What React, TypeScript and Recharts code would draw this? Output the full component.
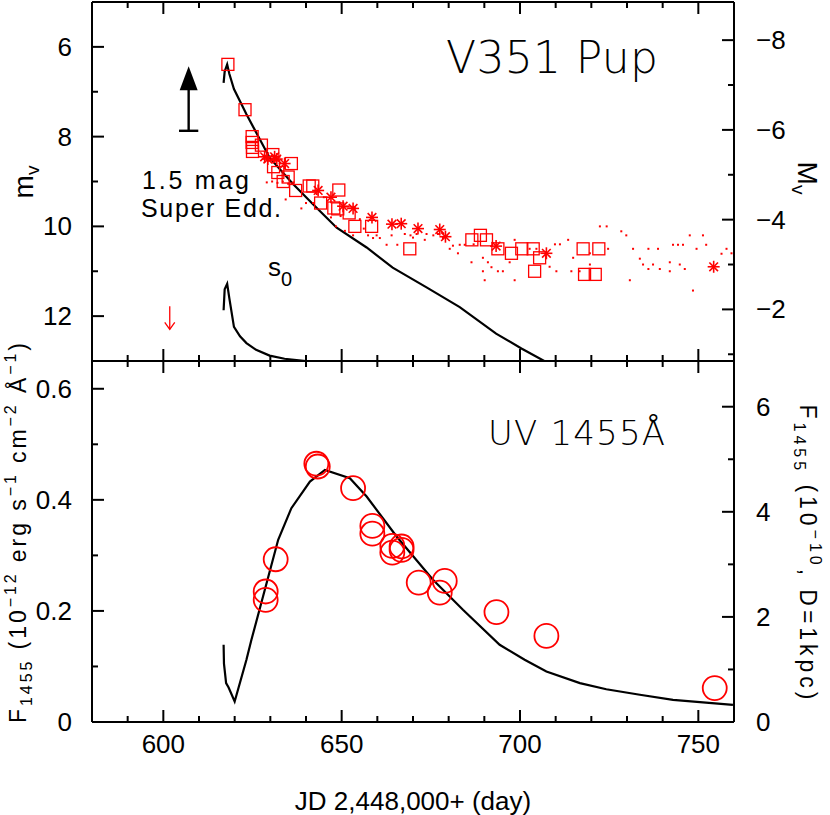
import React from "react";
import { ComposedChart, Line, Scatter, XAxis, YAxis, ReferenceLine } from "recharts";

const FONT = "'Liberation Sans', Arial, sans-serif";
const THIN = "'DejaVu Sans', 'Liberation Sans', sans-serif";
const RED = "#ff0000";

// x axis (JD - 2,448,000)
const xDomain = [580, 760];
const xTicks = [590, 600, 610, 620, 630, 640, 650, 660, 670, 680, 690, 700, 710, 720, 730, 740, 750];
const xLabels = [600, 650, 700, 750];

// top panel: apparent / absolute V magnitude
const mvDomain = [5, 13];
const mvTicks = [6, 7, 8, 9, 10, 11, 12];
const MvDomain = [-8.85, -0.85];
const MvTicks = [-8, -7, -6, -5, -4, -3, -2, -1];

// bottom panel: UV 1455 flux
const fDomain = [0, 0.65];
const fTicks = [0, 0.1, 0.2, 0.3, 0.4, 0.5, 0.6];
const fRightDomain = [0, 6.87];
const fRightTicks = [0, 1, 2, 3, 4, 5, 6];

// model V light curve
const modelV: [number, number][] = [
  [616.9, 6.8], [617.2, 6.55], [617.9, 6.39], [618.5, 6.6], [619.8, 6.94], [623.3, 7.5],
  [629.8, 8.47], [636.3, 9.05], [641.9, 9.5], [648.6, 10.03], [657.0, 10.47], [664.3, 10.92],
  [673.8, 11.36], [683.1, 11.8], [693.3, 12.39], [700.4, 12.72], [706.8, 13.0],
];

// s0 curve
const modelS0: [number, number][] = [
  [616.9, 11.87], [617.2, 11.4], [617.9, 11.28], [618.5, 11.6], [619.8, 12.24], [621.5, 12.45],
  [623.3, 12.6], [626, 12.75], [629.8, 12.88], [634, 12.95], [640, 13.0],
];

// observed V (squares)
const squaresV: [number, number][] = [
  [618.1, 6.39], [622.9, 7.4], [624.9, 8.0], [624.9, 8.13], [625.0, 8.24], [625.0, 8.33],
  [627.5, 8.19], [630.7, 8.4], [630.9, 8.67], [635.9, 8.6], [632.1, 8.8], [635.0, 8.9],
  [633.6, 9.0], [637.1, 9.2], [640.9, 9.1], [641.9, 9.1], [649.2, 9.19], [644.1, 9.48],
  [647.8, 9.59], [648.9, 9.61], [652.1, 9.7], [653.7, 10.0], [658.4, 10.0], [669.1, 10.5],
  [686.5, 10.3], [688.9, 10.2], [690.6, 10.3], [693.8, 10.5], [697.6, 10.6], [700.5, 10.5],
  [703.7, 10.5], [705.5, 10.7], [704.1, 11.0], [717.7, 10.5], [722.1, 10.5], [718.1, 11.07],
  [721.1, 11.07],
];

// observed V (asterisks)
const starsV: [number, number][] = [
  [628.4, 8.45], [629.3, 8.5], [631.2, 8.45], [631.8, 8.5], [634.0, 8.6], [643.4, 9.2],
  [647.0, 9.35], [650.4, 9.55], [653.2, 9.6], [658.5, 9.8], [664.1, 9.95], [666.7, 9.94],
  [671.4, 10.05], [677.5, 10.07], [679.1, 10.23], [693.3, 10.44], [707.4, 10.6], [754.3, 10.9],
];

// visual estimates (dots)
const dotsV: [number, number][] = [
  [629, 9.02], [630.5, 9.0], [632, 9.03], [633.5, 9.0], [635, 9.05], [636.5, 9.02],
  [634.3, 9.4], [638.7, 9.6], [640, 9.48], [642, 9.48], [643, 9.28], [645, 9.35],
  [647, 9.8], [648.4, 10.0], [649.7, 9.77], [650.9, 10.1], [653.2, 10.2], [655.1, 9.84],
  [656.2, 10.05], [657.4, 10.2], [658.8, 10.26], [659.8, 10.2], [660.7, 10.26], [662.6, 10.41],
  [664, 10.2], [665.6, 10.41], [667.7, 10.17], [669.3, 10.2], [670, 10.25], [671, 10.17],
  [673.3, 10.3], [673.8, 10.17], [675.7, 10.2], [677, 10.17], [678.4, 10.26], [679.4, 10.21],
  [680.3, 10.5], [681.2, 10.43], [682.6, 10.6], [683.1, 10.41], [684.5, 10.41], [686.4, 10.8],
  [687, 10.4], [689.6, 10.7], [691, 10.8], [692, 10.91], [689.6, 11.0], [693.8, 11.0],
  [695.2, 11.0], [690.1, 11.2], [697.1, 10.8], [698.5, 10.3], [698.5, 11.2], [702.7, 10.5],
  [704.6, 10.5], [708.3, 10.9], [710.2, 11.0], [709.8, 10.4], [711.2, 10.4], [713.5, 10.3],
  [714.9, 10.7], [714.4, 11.0], [716.7, 11.0], [719.6, 10.6], [719.6, 10.85], [722.4, 10.0],
  [724.3, 10.0], [724.7, 10.5], [728.4, 10.11], [729.8, 10.2], [730.8, 11.2], [731.7, 10.5],
  [733.6, 10.72], [734.5, 10.85], [736, 10.5], [736, 10.95], [737.3, 10.85], [738.7, 10.5],
  [739.2, 10.95], [742, 10.8], [742, 11.0], [742.9, 10.41], [744.3, 10.41], [745.7, 10.41],
  [744.8, 10.85], [746.2, 10.95], [747.6, 10.2], [748.5, 11.43], [749.5, 10.5], [751.3, 10.2],
  [752.2, 10.41], [756.5, 10.61], [757.9, 10.5], [759.3, 10.6],
];

// pre-outburst upper limit
const limitV: [number, number][] = [[601.8, 12.05]];

// 1.5 mag super-Eddington arrow
const arrowTip: [number, number][] = [[607.1, 6.43]];
const arrowBase = { x: 607.1, top: 6.9, bottom: 7.87, half: 2.7 };

// UV 1455 model and observations
const modelUV: [number, number][] = [
  [616.9, 0.139], [617.0, 0.105], [617.6, 0.07], [618.3, 0.062], [620.0, 0.037], [623.3, 0.112],
  [624.7, 0.148], [632.2, 0.328], [635.9, 0.385], [641.1, 0.433], [645.3, 0.454], [652.3, 0.439],
  [657.0, 0.406], [665.4, 0.334], [675.6, 0.256], [684.0, 0.202], [694.3, 0.139], [701.3, 0.112],
  [707.4, 0.091], [716.8, 0.07], [724.2, 0.059], [733.6, 0.049], [742.9, 0.04], [759.7, 0.031],
];
const circlesUV: [number, number][] = [
  [642.9, 0.465], [643.3, 0.46], [653.2, 0.421], [658.6, 0.353], [658.6, 0.339], [664.2, 0.317],
  [664.2, 0.305], [666.8, 0.316], [666.8, 0.31], [631.5, 0.293], [628.7, 0.235], [628.7, 0.22],
  [671.6, 0.251], [678.9, 0.254], [677.5, 0.233], [693.4, 0.198], [707.4, 0.155], [754.6, 0.061],
];

const pts = (a: [number, number][]) => a.map(([x, y]) => ({ x, y }));

type Side = "left" | "right" | "top" | "bottom";

const tickRenderer =
  (side: Side, isMajor: (v: number) => boolean, label?: (v: number) => string | null) =>
  (props: any) => {
    const { x, y, payload } = props;
    const v = payload.value as number;
    const len = isMajor(v) ? 12 : 6;
    const text = label ? label(v) : null;
    const lineProps = { stroke: "#000", strokeWidth: 2 };
    const textProps = { fontSize: 26, fontFamily: FONT, fill: "#000" };
    if (side === "left")
      return (
        <g>
          <line x1={x} y1={y} x2={x + len} y2={y} {...lineProps} />
          {text && <text x={x - 20} y={y + 9} textAnchor="end" {...textProps}>{text}</text>}
        </g>
      );
    if (side === "right")
      return (
        <g>
          <line x1={x} y1={y} x2={x - len} y2={y} {...lineProps} />
          {text && <text x={x + 22} y={y + 9} textAnchor="start" {...textProps}>{text}</text>}
        </g>
      );
    if (side === "top")
      return (
        <g>
          <line x1={x} y1={y} x2={x} y2={y + len} {...lineProps} />
        </g>
      );
    return (
      <g>
        <line x1={x} y1={y} x2={x} y2={y - len} {...lineProps} />
        {text && <text x={x} y={y + 31} textAnchor="middle" {...textProps}>{text}</text>}
      </g>
    );
  };

const majorX = (v: number) => v % 50 === 0;
const axisLine = { stroke: "#000", strokeWidth: 2 };

const Square = (p: any) => (
  <rect x={p.cx - 6} y={p.cy - 6} width={12} height={12} fill="none" stroke={RED} strokeWidth={1.3} />
);
const Star = (p: any) => {
  const r = 6;
  const d = r * 0.72;
  return (
    <g stroke={RED} strokeWidth={1.6}>
      <line x1={p.cx - r} y1={p.cy} x2={p.cx + r} y2={p.cy} />
      <line x1={p.cx} y1={p.cy - r} x2={p.cx} y2={p.cy + r} />
      <line x1={p.cx - d} y1={p.cy - d} x2={p.cx + d} y2={p.cy + d} />
      <line x1={p.cx - d} y1={p.cy + d} x2={p.cx + d} y2={p.cy - d} />
    </g>
  );
};
const Dot = (p: any) => <rect x={p.cx - 1} y={p.cy - 1} width={2} height={2} fill={RED} />;
const Ring = (p: any) => <circle cx={p.cx} cy={p.cy} r={12} fill="none" stroke={RED} strokeWidth={1.8} />;
const DownArrow = (p: any) => (
  <g stroke={RED} strokeWidth={1.3} fill="none">
    <line x1={p.cx} y1={p.cy - 12} x2={p.cx} y2={p.cy + 11} />
    <path d={`M${p.cx - 5} ${p.cy + 4} L${p.cx} ${p.cy + 11} L${p.cx + 5} ${p.cy + 4}`} />
  </g>
);
const ArrowHead = (p: any) => (
  <path d={`M${p.cx} ${p.cy} L${p.cx + 9} ${p.cy + 24} L${p.cx - 9} ${p.cy + 24} Z`} fill="#000" />
);

const TopPanel = () => (
  <ComposedChart width={830} height={362} margin={{ top: 1, right: 0, bottom: 0, left: 0 }}>
    <XAxis xAxisId="b" type="number" dataKey="x" domain={xDomain} ticks={xTicks} interval={0}
      orientation="bottom" height={1} tickSize={0} tickMargin={0} tickLine={false} axisLine={axisLine}
      tick={tickRenderer("bottom", majorX)} allowDataOverflow />
    <XAxis xAxisId="t" type="number" dataKey="x" domain={xDomain} ticks={xTicks} interval={0}
      orientation="top" height={1} tickSize={0} tickMargin={0} tickLine={false} axisLine={axisLine}
      tick={tickRenderer("top", majorX)} allowDataOverflow />
    <YAxis yAxisId="l" type="number" dataKey="y" domain={mvDomain} reversed ticks={mvTicks} interval={0}
      width={92} tickSize={0} tickMargin={0} tickLine={false} axisLine={axisLine}
      tick={tickRenderer("left", (v) => v % 2 === 0, (v) => (v % 2 === 0 ? String(v) : null))}
      allowDataOverflow />
    <YAxis yAxisId="r" orientation="right" type="number" dataKey="y" domain={MvDomain} reversed
      ticks={MvTicks} interval={0} width={96} tickSize={0} tickMargin={0} tickLine={false} axisLine={axisLine}
      tick={tickRenderer("right", (v) => v % 2 === 0, (v) => (v % 2 === 0 ? "\u2212" + Math.abs(v) : null))}
      allowDataOverflow />
    <Line xAxisId="b" yAxisId="l" data={pts(modelV)} dataKey="y" type="linear" stroke="#000"
      strokeWidth={2.2} dot={false} isAnimationActive={false} />
    <Line xAxisId="b" yAxisId="l" data={pts(modelS0)} dataKey="y" type="linear" stroke="#000"
      strokeWidth={2.2} dot={false} isAnimationActive={false} />
    <Scatter xAxisId="b" yAxisId="l" data={pts(dotsV)} shape={Dot} isAnimationActive={false} />
    <Scatter xAxisId="b" yAxisId="l" data={pts(squaresV)} shape={Square} isAnimationActive={false} />
    <Scatter xAxisId="b" yAxisId="l" data={pts(starsV)} shape={Star} isAnimationActive={false} />
    <Scatter xAxisId="b" yAxisId="l" data={pts(limitV)} shape={DownArrow} isAnimationActive={false} />
    <ReferenceLine xAxisId="b" yAxisId="l" stroke="#000" strokeWidth={2.4}
      segment={[{ x: arrowBase.x, y: arrowBase.top }, { x: arrowBase.x, y: arrowBase.bottom }]} />
    <ReferenceLine xAxisId="b" yAxisId="l" stroke="#000" strokeWidth={2.4}
      segment={[{ x: arrowBase.x - arrowBase.half, y: arrowBase.bottom }, { x: arrowBase.x + arrowBase.half, y: arrowBase.bottom }]} />
    <Scatter xAxisId="b" yAxisId="l" data={pts(arrowTip)} shape={ArrowHead} isAnimationActive={false} />
  </ComposedChart>
);

const BottomPanel = () => (
  <ComposedChart width={830} height={455} margin={{ top: 0, right: 0, bottom: 0, left: 0 }}>
    <XAxis xAxisId="t" type="number" dataKey="x" domain={xDomain} ticks={xTicks} interval={0}
      orientation="top" height={1} tickSize={0} tickMargin={0} tickLine={false} axisLine={axisLine}
      tick={tickRenderer("top", majorX)} allowDataOverflow />
    <XAxis xAxisId="b" type="number" dataKey="x" domain={xDomain} ticks={xTicks} interval={0}
      orientation="bottom" height={93} tickSize={0} tickMargin={0} tickLine={false} axisLine={axisLine}
      tick={tickRenderer("bottom", majorX, (v) => (xLabels.includes(v) ? String(v) : null))} allowDataOverflow />
    <YAxis yAxisId="l" type="number" dataKey="y" domain={fDomain} ticks={fTicks} interval={0}
      width={92} tickSize={0} tickMargin={0} tickLine={false} axisLine={axisLine}
      tick={tickRenderer("left", (v) => Math.round(v * 10) % 2 === 0,
        (v) => (Math.round(v * 10) % 2 === 0 ? (v === 0 ? "0" : v.toFixed(1)) : null))}
      allowDataOverflow />
    <YAxis yAxisId="r" orientation="right" type="number" dataKey="y" domain={fRightDomain}
      ticks={fRightTicks} interval={0} width={96} tickSize={0} tickMargin={0} tickLine={false} axisLine={axisLine}
      tick={tickRenderer("right", (v) => v % 2 === 0, (v) => (v % 2 === 0 ? String(v) : null))}
      allowDataOverflow />
    <Line xAxisId="b" yAxisId="l" data={pts(modelUV)} dataKey="y" type="linear" stroke="#000"
      strokeWidth={2.2} dot={false} isAnimationActive={false} />
    <Scatter xAxisId="b" yAxisId="l" data={pts(circlesUV)} shape={Ring} isAnimationActive={false} />
  </ComposedChart>
);

const Titles = () => (
  <svg width={830} height={815} style={{ position: "absolute", left: 0, top: 0, pointerEvents: "none" }}
    fontFamily={FONT} fill="#000">
    <text x={446} y={73} fontSize={44} fontFamily={THIN} fontWeight={200} textLength={212} lengthAdjust="spacing">V351 Pup</text>
    <text x={488} y={445} fontSize={34} fontFamily={THIN} fontWeight={200} textLength={177} lengthAdjust="spacing">UV 1455Å</text>
    <text x={142} y={189} fontSize={25} textLength={107} lengthAdjust="spacing">1.5 mag</text>
    <text x={141} y={217} fontSize={25} textLength={140} lengthAdjust="spacing">Super Edd.</text>
    <text x={268} y={276} fontSize={26}>
      s<tspan fontSize={20} dy={10}>0</tspan>
    </text>
    <text x={33} y={182} fontSize={28} textAnchor="middle" transform="rotate(-90 33 182)">
      m<tspan fontSize={19} dy={6}>v</tspan>
    </text>
    <text x={26} y={533} fontSize={23} textAnchor="middle" transform="rotate(-90 26 533)"
      textLength={380} lengthAdjust="spacing">
      F<tspan fontSize={16} dy={6}>1455</tspan>
      <tspan dy={-6}> (10</tspan>
      <tspan fontSize={16} dy={-10}>−12</tspan>
      <tspan dy={10}> erg s</tspan>
      <tspan fontSize={16} dy={-10}>−1</tspan>
      <tspan dy={10}> cm</tspan>
      <tspan fontSize={16} dy={-10}>−2</tspan>
      <tspan dy={10}> Å</tspan>
      <tspan fontSize={16} dy={-10}>−1</tspan>
      <tspan dy={10}>)</tspan>
    </text>
    <text x={798} y={178} fontSize={28} textAnchor="middle" transform="rotate(90 798 178)">
      M<tspan fontSize={19} dy={6}>v</tspan>
    </text>
    <text x={800} y={552} fontSize={23} textAnchor="middle" transform="rotate(90 800 552)"
      textLength={295} lengthAdjust="spacing">
      F<tspan fontSize={16} dy={6}>1455</tspan>
      <tspan dy={-6}> (10</tspan>
      <tspan fontSize={16} dy={-10}>−10</tspan>
      <tspan dy={10}>, D=1kpc)</tspan>
    </text>
    <text x={413} y={810} fontSize={26} textAnchor="middle">JD 2,448,000+ (day)</text>
  </svg>
);

export default function App() {
  return (
    <div style={{ position: "absolute", left: 0, top: 0, width: 830, height: 815, background: "#fff" }}>
      <div style={{ position: "absolute", left: 0, top: 0 }}>
        <TopPanel />
      </div>
      <div style={{ position: "absolute", left: 0, top: 360 }}>
        <BottomPanel />
      </div>
      <Titles />
    </div>
  );
}
